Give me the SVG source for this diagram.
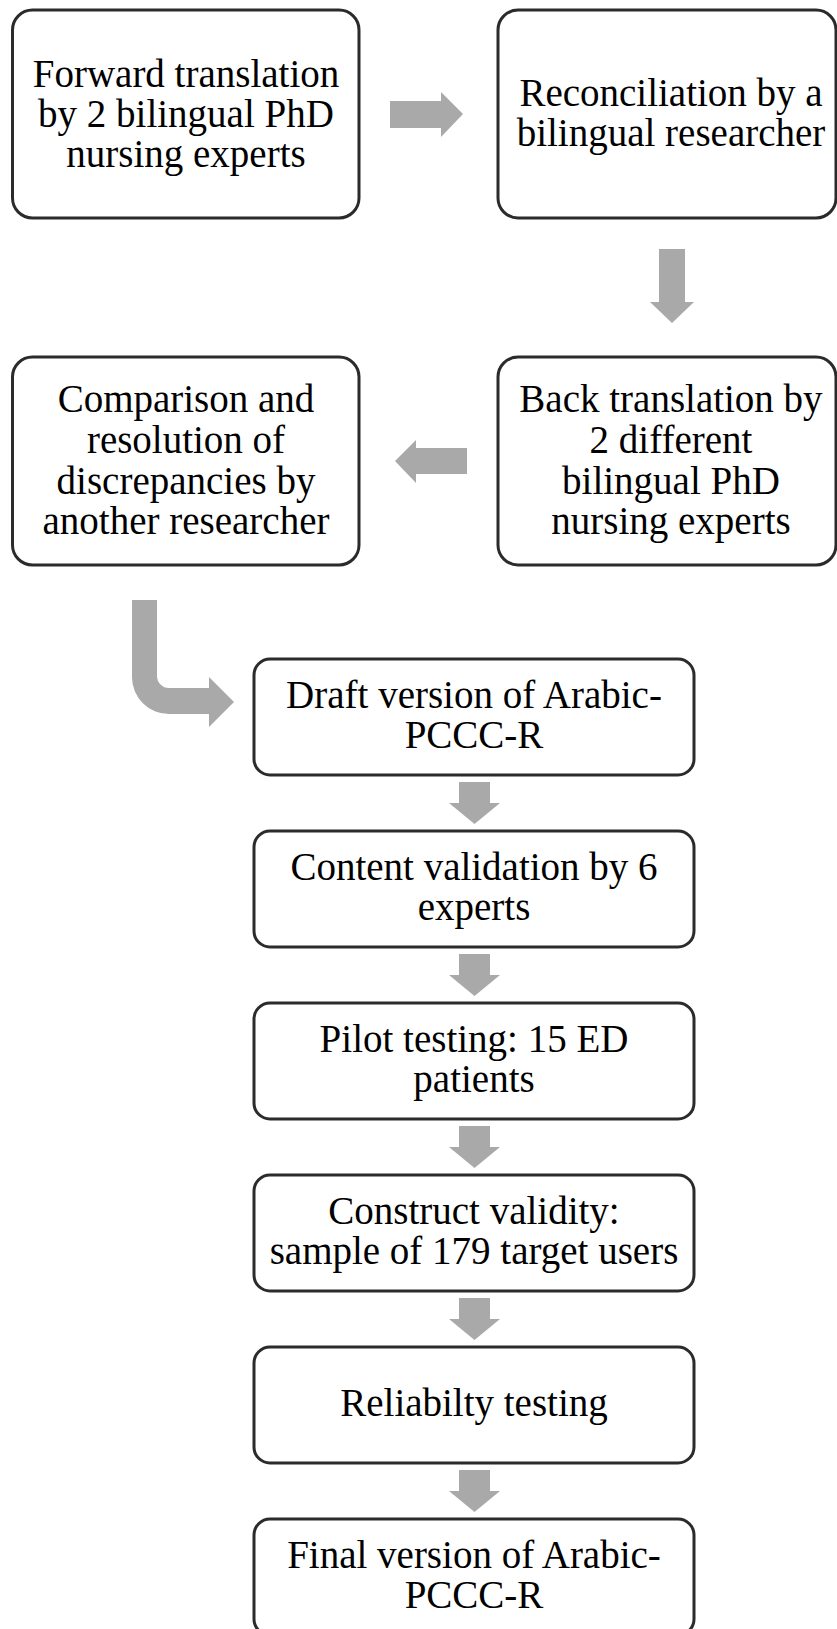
<svg xmlns="http://www.w3.org/2000/svg" width="837" height="1629" viewBox="0 0 837 1629">
  <style>
    .box { fill: #ffffff; stroke: #2b2b2b; stroke-width: 3; }
    .lbl { font-family: "Liberation Serif", "Times New Roman", serif; font-size: 39px; fill: #000000; text-anchor: middle; }
    .arrow { fill: #a9a9a9; }
  </style>
  <defs>
    <!-- downward block arrow, origin at top centre of shaft -->
    <path id="down" d="M-15.5,0 H15.5 V21 H25.5 L0,42 L-25.5,21 H-15.5 Z"/>
  </defs>
  <rect x="0" y="0" width="837" height="1629" fill="#ffffff"/>

  <g id="connectors" class="arrow">
    <!-- forward -> reconciliation -->
    <path d="M390,101 H441 V92 L463,114 L441,137 V128 H390 Z"/>
    <!-- reconciliation -> back translation -->
    <path d="M659,249 H685 V302 H694 L672,323 L650,302 H659 Z"/>
    <!-- back translation -> comparison -->
    <path d="M467,448 H416 V440 L395,461 L416,483 V474 H467 Z"/>
    <!-- comparison -> draft (bent) -->
    <path d="M132,600 H157 V676 A12,12 0 0 0 169,688 H209 V677 L234,702 L209,727 V714 H169 A37,37 0 0 1 132,677 Z"/>
    <!-- vertical chain -->
    <use href="#down" x="474.5" y="782"/>
    <use href="#down" x="474.5" y="954"/>
    <use href="#down" x="474.5" y="1126"/>
    <use href="#down" x="474.5" y="1298"/>
    <use href="#down" x="474.5" y="1470"/>
  </g>

  <g id="forward">
    <rect class="box" x="12.5" y="10" width="346.5" height="208" rx="20"/>
    <text class="lbl" x="186" y="87">Forward translation</text>
    <text class="lbl" x="186" y="127">by 2 bilingual PhD</text>
    <text class="lbl" x="186" y="167">nursing experts</text>
  </g>

  <g id="reconciliation">
    <rect class="box" x="498" y="10" width="338" height="208" rx="20"/>
    <text class="lbl" x="671" y="106">Reconciliation by a</text>
    <text class="lbl" x="671" y="146">bilingual researcher</text>
  </g>

  <g id="comparison">
    <rect class="box" x="12.5" y="357" width="346.5" height="208" rx="20"/>
    <text class="lbl" x="186" y="412">Comparison and</text>
    <text class="lbl" x="186" y="453">resolution of</text>
    <text class="lbl" x="186" y="494">discrepancies by</text>
    <text class="lbl" x="186" y="534">another researcher</text>
  </g>

  <g id="back-translation">
    <rect class="box" x="498" y="357" width="338" height="208" rx="20"/>
    <text class="lbl" x="671" y="412">Back translation by</text>
    <text class="lbl" x="671" y="453">2 different</text>
    <text class="lbl" x="671" y="494">bilingual PhD</text>
    <text class="lbl" x="671" y="534">nursing experts</text>
  </g>

  <g id="draft">
    <rect class="box" x="254" y="659" width="440" height="116" rx="16"/>
    <text class="lbl" x="474" y="708">Draft version of Arabic-</text>
    <text class="lbl" x="474" y="748">PCCC-R</text>
  </g>

  <g id="content-validation">
    <rect class="box" x="254" y="831" width="440" height="116" rx="16"/>
    <text class="lbl" x="474" y="880">Content validation by 6</text>
    <text class="lbl" x="474" y="920">experts</text>
  </g>

  <g id="pilot">
    <rect class="box" x="254" y="1003" width="440" height="116" rx="16"/>
    <text class="lbl" x="474" y="1052">Pilot testing: 15 ED</text>
    <text class="lbl" x="474" y="1092">patients</text>
  </g>

  <g id="construct">
    <rect class="box" x="254" y="1175" width="440" height="116" rx="16"/>
    <text class="lbl" x="474" y="1224">Construct validity:</text>
    <text class="lbl" x="474" y="1264">sample of 179 target users</text>
  </g>

  <g id="reliability">
    <rect class="box" x="254" y="1347" width="440" height="116" rx="16"/>
    <text class="lbl" x="474" y="1416">Reliabilty testing</text>
  </g>

  <g id="final">
    <rect class="box" x="254" y="1519" width="440" height="116" rx="16"/>
    <text class="lbl" x="474" y="1568">Final version of Arabic-</text>
    <text class="lbl" x="474" y="1608">PCCC-R</text>
  </g>
</svg>
